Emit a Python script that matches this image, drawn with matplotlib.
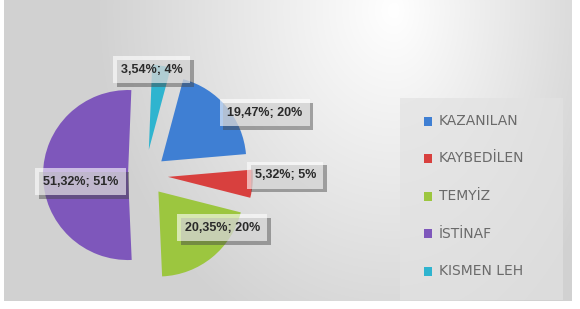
#!/usr/bin/env python
"""Exploded pie of case outcomes (Turkish labels) with Excel-like styling."""
import matplotlib
matplotlib.use("Agg")
import matplotlib.pyplot as plt
import matplotlib.patheffects as pe
from matplotlib.patches import Rectangle
import numpy as np

CATEGORIES = ["KAZANILAN", "KAYBEDİLEN", "TEMYİZ", "İSTİNAF", "KISMEN LEH"]
SHARES = [19.47, 5.32, 20.35, 51.32, 3.54]
ROUNDED = [20, 5, 20, 51, 4]
COLORS = ["#3f7fd3", "#d8403e", "#9cc63f", "#7e57bb", "#2fb4cf"]

# label centres in pie units (layout only)
LABEL_POS = [(1.41, 0.73), (1.65, 0.0), (0.91, -0.62), (-0.76, -0.08), (0.08, 1.24)]
EXPLODE = [0.25, 0.27, 0.25, 0.20, 0.30]

W, H = 580, 309
fig = plt.figure(figsize=(W / 100, H / 100), dpi=100)
fig.patch.set_facecolor("white")

# background gradient (light top-right, grey towards the edges)
bg = fig.add_axes([4 / W, 8 / H, 568 / W, 1 - 8 / H])
yy, xx = np.mgrid[0:300, 0:568]
sx = np.where(xx > 390, 230.0, 300.0)
d = np.sqrt(((xx - 390) / sx) ** 2 + ((yy - 10) / 360) ** 2)
g = np.clip(1.0 - 0.18 * d, 0.82, 1.0)
bg.imshow(np.dstack([g, g, g]), aspect="auto", extent=(0, 1, 0, 1))
bg.set_axis_off()

ax = fig.add_axes([17.5 / W, 6.5 / H, 255 / W, 255 / H])
wedges, _ = ax.pie(SHARES, colors=COLORS, startangle=75, counterclock=False,
                   explode=EXPLODE, radius=1.0,
                   wedgeprops=dict(linewidth=0))
ax.set_xlim(-1.5, 1.5)
ax.set_ylim(-1.5, 1.5)
ax.set_aspect("equal")
ax.set_axis_off()
ax.patch.set_alpha(0)

shadow = [pe.withSimplePatchShadow(offset=(2.5, -2.5), shadow_rgbFace="#444444",
                                   alpha=0.45)]
for (x, y), s, r in zip(LABEL_POS, SHARES, ROUNDED):
    txt = f"{s:.2f}%; {r}%".replace(".", ",")
    t = ax.text(x, y, txt, ha="center", va="center", fontsize=9,
                color="#2a2a2a", fontweight="bold",
                family=["Liberation Sans", "DejaVu Sans"],
                bbox=dict(boxstyle="square,pad=0.6", facecolor="white",
                          edgecolor="none", alpha=0.6))
    t.get_bbox_patch().set_path_effects(shadow)

# legend panel
leg_ax = fig.add_axes([0, 0, 1, 1])
leg_ax.set_xlim(0, W)
leg_ax.set_ylim(H, 0)
leg_ax.set_axis_off()
leg_ax.patch.set_alpha(0)
leg_ax.add_patch(Rectangle((400, 98), 163, 202, facecolor="#e2e2e2",
                           edgecolor="none", alpha=0.7))
for i, (name, c) in enumerate(zip(CATEGORIES, COLORS)):
    yc = 121 + i * 37.5
    leg_ax.add_patch(Rectangle((424, yc - 4.5), 8, 9, facecolor=c, edgecolor="none"))
    leg_ax.text(439, yc, name, ha="left", va="center", fontsize=10,
                color="#6a6a6a", family=["DejaVu Sans"])

fig.savefig("out.png", dpi=100)
